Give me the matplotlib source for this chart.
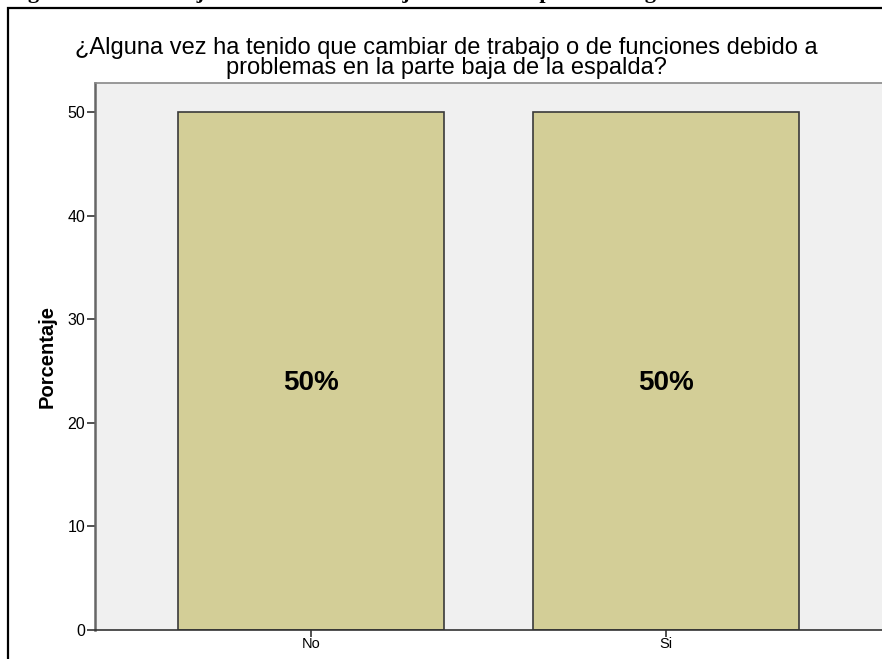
import matplotlib.pyplot as plt
from matplotlib.patches import Rectangle

categorias = ['No', 'Si']
porcentajes = [50, 50]
etiquetas = ['50%', '50%']
yticks = [0, 10, 20, 30, 40, 50]

W, H = 882, 659
fig = plt.figure(figsize=(W / 100, H / 100), dpi=100)
fig.patch.set_facecolor('white')

# caption of the figure, only its lower edge stays on the page
fig.text(8 / W, 1.0 + 1.5 / H, 'Figura 10. Porcentaje de cambio de trabajo o funciones por lumbalgia',
         family='Liberation Serif', weight='bold', fontsize=16, ha='left', va='baseline')

# outer frame around the chart
fig.patches.append(Rectangle((8 / W, -0.1), 1.2, 1.0 - 8 / H + 0.1, transform=fig.transFigure,
                             fill=False, edgecolor='black', linewidth=1.6))

ax = fig.add_axes([95 / W, (H - 630) / H, (W - 95) / W, (630 - 83) / H])
ax.set_facecolor('#f0f0f0')

x = list(range(len(categorias)))
ax.bar(x, porcentajes, width=0.75, color='#d3ce97', edgecolor='#3a3a3a', linewidth=1.2, zorder=2)
for xi, v, t in zip(x, porcentajes, etiquetas):
    ax.text(xi, v * 0.476, t, ha='center', va='center', fontsize=20, weight='bold',
            family='Liberation Sans', color='black', zorder=3)

ax.set_xlim(-0.608, 1.608)
ax.set_ylim(0, 52.8)
ax.set_xticks(x)
ax.set_xticklabels(categorias, family='Liberation Sans', fontsize=10.5)
ax.set_yticks(yticks)
ax.set_yticklabels([str(t) for t in yticks], family='Liberation Sans', fontsize=11.5)
ax.tick_params(axis='y', length=6, width=1.2, color='#333333', pad=1)
ax.tick_params(axis='x', length=5, width=1.2, color='#333333', pad=0)

ax.spines['left'].set_color('#666666')
ax.spines['left'].set_linewidth(1.8)
ax.spines['bottom'].set_color('#333333')
ax.spines['bottom'].set_linewidth(1.2)
ax.spines['top'].set_color('#888888')
ax.spines['top'].set_linewidth(1.2)
ax.spines['right'].set_visible(False)

ax.set_ylabel('Porcentaje', family='Liberation Sans', fontsize=14.5, weight='bold', labelpad=8)

fig.text(446 / W, 1 - 58 / H,
         '¿Alguna vez ha tenido que cambiar de trabajo o de funciones debido a\n'
         'problemas en la parte baja de la espalda?',
         ha='center', va='center', family='Liberation Sans', fontsize=17, linespacing=0.83)

fig.savefig('out.png', dpi=100)
